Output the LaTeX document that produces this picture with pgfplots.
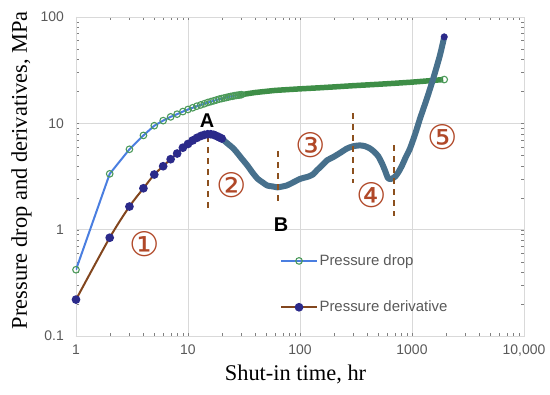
\documentclass[border=0pt]{standalone}
\usepackage{pgfplots}
\pgfplotsset{compat=1.18}
\usepackage{fontspec}
\setmainfont{Liberation Serif}
\newfontfamily\arialf{Liberation Sans}
\newfontfamily\dejavu{DejaVu Sans}
\definecolor{tickgray}{RGB}{89,89,89}
\definecolor{gridgray}{RGB}{217,217,217}
\definecolor{pdline}{RGB}{74,126,224}
\definecolor{pdmark}{RGB}{76,154,90}
\definecolor{pdband}{RGB}{62,142,71}
\definecolor{dvline}{RGB}{130,70,30}
\definecolor{dvmark}{RGB}{43,42,138}
\definecolor{dvband}{RGB}{71,112,140}
\definecolor{stagec}{RGB}{176,72,40}
\definecolor{dashc}{RGB}{140,80,30}
\begin{document}
\begin{tikzpicture}
\begin{axis}[
  scale only axis, width=448bp, height=319bp,
  xmode=log, ymode=log,
  xmin=1, xmax=10000, ymin=0.1, ymax=100,
  xtick={1,10,100,1000,10000}, xticklabels={1,10,100,1000,{10,000}},
  ytick={0.1,1,10,100}, yticklabels={0.1,1,10,100},
  minor tick num=0, minor xtick={}, minor ytick={},
  major tick length=0pt,
  grid=major,
  major grid style={gridgray, line width=0.9pt},
  axis line style={gridgray, line width=0.9pt},
  ticklabel style={font=\arialf\fontsize{14}{14}\selectfont, text=tickgray},
  yticklabel style={anchor=east, inner sep=0pt, xshift=-12bp},
  xticklabel style={anchor=north, inner sep=0pt, yshift=-9bp},
  xlabel={Shut-in time, hr},
  ylabel={Pressure drop and derivatives, MPa},
  label style={font=\fontsize{22.5}{24}\selectfont},
  xlabel style={at={([yshift=-45bp]axis description cs:0.49,0)}, anchor=base, inner sep=0pt},
  ylabel style={at={([xshift=-49bp]axis description cs:0,0.52)}, anchor=base, inner sep=0pt},
  legend style={at={(0.455,0.26)}, anchor=north west, draw=none, fill=none,
    font=\arialf\fontsize{15}{15}\selectfont, text=tickgray, row sep=31bp,
    inner sep=0pt, nodes={inner sep=1.5bp}},
  legend cell align=left,
  legend image code/.code={\draw[mark repeat=2, mark phase=2, #1] plot coordinates {(0bp,0bp) (18bp,0bp) (36bp,0bp)};},
]
% Pressure drop: individual points
\addplot[pdline, line width=2bp, mark=o, mark size=3.3bp,
  mark options={draw=pdmark, fill=white, line width=1.1bp, solid}] coordinates {
 (1,0.42) (2,3.35) (3,5.7) (4,7.7) (5,9.5) (6,10.6) (7,11.5) (8,12.2) (9,12.9) (10,13.5)
 (11,14.0) (12,14.5) (13,14.9) (14,15.3) (15,15.7) (16,16.0) (17,16.3) (18,16.6) (19,16.9) (20,17.1)
 (21,17.3) (22,17.5) (23,17.7) (24,17.9) (25,18.0) (26,18.2) (27,18.3) (28,18.4) (29,18.5) (30,18.6)
};
\addlegendentry{Pressure drop}
% Pressure derivative: individual points
\addplot[dvline, line width=2bp, smooth, tension=0.5, mark=*, mark size=3.3bp,
  mark options={draw=dvmark, fill=dvmark, solid}] coordinates {
 (1,0.22) (2,0.84) (3,1.65) (4,2.45) (5,3.3) (6,3.95) (7,4.6) (8,5.2) (9,5.9) (10,6.4)
 (11,6.9) (12,7.3) (13,7.6) (14,7.8) (15,7.9) (16,7.9) (17,7.8) (18,7.6) (19,7.4) (20,7.2)
};
\addlegendentry{Pressure derivative}
% Pressure drop: dense late-time band
\addplot[forget plot, pdband, line width=5.5bp, line join=round] coordinates {
 (28,18.4) (35,19.1) (40,19.5) (50,20.0) (60,20.4) (80,20.8) (100,21.1) (150,21.6) (200,22.0)
 (300,22.6) (500,23.3) (700,23.8) (1000,24.4) (1400,25.1) (1900,25.8)
};
\addplot[forget plot, only marks, mark=o, mark size=3.3bp,
  mark options={draw=pdmark, fill=white, line width=1.1bp}] coordinates {(1940,25.8)};
% Pressure derivative: dense band
\addplot[forget plot, dvband, line width=6bp, line join=round, smooth, tension=0.4] coordinates {
 (20,7.2) (22,6.6) (25,5.9) (27,5.4) (30,4.7) (34,4.0) (38,3.4) (42,3.0) (46,2.8) (51,2.6)
 (57,2.55) (63,2.5) (70,2.55) (76,2.6) (85,2.75) (100,3.0) (118,3.15) (130,3.3) (141,3.6)
 (160,4.1) (175,4.5) (197,4.8) (230,5.3) (263,5.8) (300,6.1) (344,6.2) (380,6.1) (422,5.8)
 (460,5.4) (500,4.9) (540,4.2) (574,3.6) (611,3.05) (650,3.0) (707,3.15) (760,3.5) (814,4.0)
 (880,4.8) (960,5.8) (1070,8.0) (1180,11.1) (1360,17.2) (1550,26.5) (1780,44) (1940,65)
};
\addplot[forget plot, only marks, mark=*, mark size=3.3bp,
  mark options={draw=dvmark, fill=dvmark}] coordinates {(1940,65)};
% stage boundaries
\addplot[forget plot, dashc, line width=2bp, dash pattern=on 6bp off 5bp] coordinates {(15.1,7.6) (15.1,1.58)};
\addplot[forget plot, dashc, line width=2bp, dash pattern=on 6bp off 5bp] coordinates {(63.6,5.44) (63.6,1.68)};
\addplot[forget plot, dashc, line width=2bp, dash pattern=on 6bp off 5bp] coordinates {(297,12.4) (297,2.72)};
\addplot[forget plot, dashc, line width=2bp, dash pattern=on 6bp off 5bp] coordinates {(690,6.2) (690,1.33)};
% labels
\node[font=\dejavu\fontsize{34}{34}\selectfont, text=stagec] at (axis cs:4.13,0.738) {①};
\node[font=\dejavu\fontsize{34}{34}\selectfont, text=stagec] at (axis cs:24.7,2.60) {②};
\node[font=\dejavu\fontsize{34}{34}\selectfont, text=stagec] at (axis cs:125,6.2) {③};
\node[font=\dejavu\fontsize{34}{34}\selectfont, text=stagec] at (axis cs:440,2.09) {④};
\node[font=\dejavu\fontsize{34}{34}\selectfont, text=stagec] at (axis cs:1890,7.38) {⑤};
\node[font=\arialf\bfseries\fontsize{20}{20}\selectfont] at (axis cs:14.8,10.6) {A};
\node[font=\arialf\bfseries\fontsize{20}{20}\selectfont] at (axis cs:67.7,1.11) {B};
\end{axis}
\pgfresetboundingbox
\path[use as bounding box] ([shift={(-76bp,-59bp)}]current axis.south west) rectangle ([shift={(26bp,17bp)}]current axis.north east);
\end{tikzpicture}
\end{document}
